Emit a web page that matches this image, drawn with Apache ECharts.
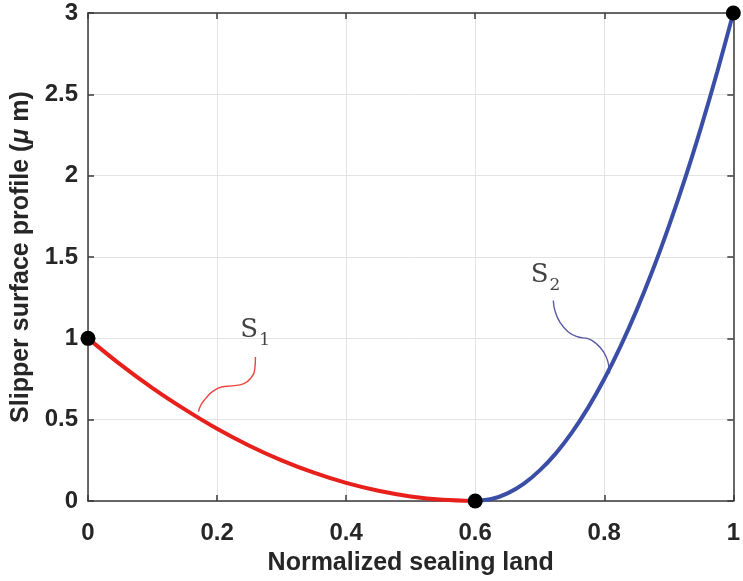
<!DOCTYPE html>
<html>
<head>
<meta charset="utf-8">
<style>
  html, body { margin: 0; padding: 0; background: #fff; }
  #chart { width: 743px; height: 581px; }
</style>
<script src="https://cdn.jsdelivr.net/npm/echarts@6/dist/echarts.min.js"></script>
</head>
<body>
<div id="chart"></div>
<script>
// Axis ticks
const xTicks = [0, 0.2, 0.4, 0.6, 0.8, 1];
const yTicks = [0, 0.5, 1, 1.5, 2, 2.5, 3];

// Surface S1: from the inlet edge down to the minimum
const s1X = [0, 0.05, 0.10, 0.15, 0.20, 0.25, 0.30, 0.35, 0.40, 0.45, 0.50, 0.55, 0.60];
const s1Y = [1.000, 0.840, 0.694, 0.563, 0.444, 0.340, 0.250, 0.174, 0.111, 0.063, 0.028, 0.007, 0.000];

// Surface S2: from the minimum up to the outlet edge
const s2X = [0.600, 0.625, 0.650, 0.675, 0.700, 0.725, 0.750, 0.775, 0.800, 0.825, 0.850, 0.875, 0.900, 0.925, 0.950, 0.975, 1.000];
const s2Y = [0.000, 0.012, 0.047, 0.105, 0.188, 0.293, 0.422, 0.574, 0.750, 0.949, 1.172, 1.418, 1.688, 1.980, 2.297, 2.637, 3.000];

// Junction points
const nodeX = [0, 0.6, 1];
const nodeY = [1, 0, 3];

// Callout leaders (data coordinates)
const lead1X = [0.2595, 0.2585, 0.2518, 0.2415, 0.2235, 0.2082, 0.1928, 0.1826, 0.1749, 0.1712];
const lead1Y = [0.886, 0.814, 0.753, 0.722, 0.708, 0.702, 0.672, 0.631, 0.590, 0.549];
const lead2X = [0.7211, 0.7235, 0.7312, 0.7442, 0.7595, 0.7749, 0.7877, 0.7989, 0.8057, 0.8082];
const lead2Y = [1.2325, 1.171, 1.100, 1.039, 1.008, 0.998, 0.967, 0.917, 0.855, 0.784];

// Callout labels
const tagNames = ['1', '2'];
const tagX = [0.259, 0.709];
const tagY = [1.06, 1.40];

const zip = (a, b) => a.map((v, i) => [v, b[i]]);

const ink = '#262626';
const sans = 'Liberation Sans, Arial, sans-serif';
const tickFont = { fontFamily: sans, fontWeight: 'bold', fontSize: 24, color: ink };

const frameLine = { show: true, onZero: false, lineStyle: { color: '#3a3a3a', width: 1.5 } };
const frameTick = { show: true, inside: true, length: 6, lineStyle: { color: '#3a3a3a', width: 1.5 } };

const xBase = { type: 'value', min: 0, max: 1, interval: 0.2, axisLine: frameLine, axisTick: frameTick };
const yBase = { type: 'value', min: 0, max: 3, interval: 0.5, axisLine: frameLine, axisTick: frameTick };

const chart = echarts.init(document.getElementById('chart'), null, { renderer: 'canvas' });
chart.setOption({
  backgroundColor: '#ffffff',
  animation: false,
  grid: { left: 88, right: 4, top: 13, bottom: 78, containLabel: false },
  xAxis: [
    Object.assign({}, xBase, {
      position: 'bottom',
      name: 'Normalized sealing land',
      nameLocation: 'middle',
      nameGap: 50,
      nameTextStyle: { fontFamily: sans, fontWeight: 'bold', fontSize: 25, color: ink },
      axisLabel: Object.assign({ margin: 20, formatter: v => String(+v.toFixed(1)) }, tickFont),
      splitLine: { show: true, lineStyle: { color: '#e3e3e3', width: 1 } },
    }),
    Object.assign({}, xBase, {
      position: 'top',
      axisLabel: { show: false },
      splitLine: { show: false },
    }),
  ],
  yAxis: [
    Object.assign({}, yBase, {
      position: 'left',
      name: 'Slipper surface profile ({mu|μ} m)',
      nameLocation: 'middle',
      nameGap: 52,
      nameTextStyle: {
        fontFamily: sans, fontWeight: 'bold', fontSize: 25, color: ink,
        rich: { mu: { fontFamily: sans, fontStyle: 'italic', fontWeight: 'bold', fontSize: 25, color: ink } },
      },
      axisLabel: Object.assign({ margin: 10, formatter: v => String(+v.toFixed(1)) }, tickFont),
      splitLine: { show: true, lineStyle: { color: '#e3e3e3', width: 1 } },
    }),
    Object.assign({}, yBase, {
      position: 'right',
      axisLabel: { show: false },
      splitLine: { show: false },
    }),
  ],
  series: [
    {
      name: 'S1', type: 'line', smooth: 0.3, symbol: 'none', clip: false,
      data: zip(s1X, s1Y),
      lineStyle: { color: '#e8201c', width: 4 },
      z: 3,
    },
    {
      name: 'S2', type: 'line', smooth: 0.3, symbol: 'none', clip: false,
      data: zip(s2X, s2Y),
      lineStyle: { color: '#3a4ea6', width: 4 },
      z: 3,
    },
    {
      name: 'lead1', type: 'line', smooth: 0.5, symbol: 'none',
      data: zip(lead1X, lead1Y),
      lineStyle: { color: '#e8453f', width: 1.4 },
      z: 2,
    },
    {
      name: 'lead2', type: 'line', smooth: 0.5, symbol: 'none',
      data: zip(lead2X, lead2Y),
      lineStyle: { color: '#5b5aa6', width: 1.4 },
      z: 2,
    },
    {
      name: 'nodes', type: 'scatter', symbol: 'circle', symbolSize: 15, clip: false,
      data: zip(nodeX, nodeY),
      itemStyle: { color: '#000000', opacity: 1 },
      z: 5,
    },
    {
      name: 'tags', type: 'scatter', symbolSize: 0,
      data: tagX.map((x, i) => ({ value: [x, tagY[i]], sub: tagNames[i] })),
      label: {
        show: true, position: 'inside',
        formatter: p => '{s|S}{sub|' + p.data.sub + '}',
        rich: {
          s: { fontFamily: 'DejaVu Serif, Liberation Serif, serif', fontSize: 26, color: '#111', verticalAlign: 'bottom', lineHeight: 30 },
          sub: { fontFamily: 'DejaVu Serif, Liberation Serif, serif', fontSize: 17, color: '#111', verticalAlign: 'bottom', lineHeight: 20, padding: [0, 0, -6, 1] },
        },
      },
      z: 4,
    },
  ],
});
</script>
</body>
</html>
